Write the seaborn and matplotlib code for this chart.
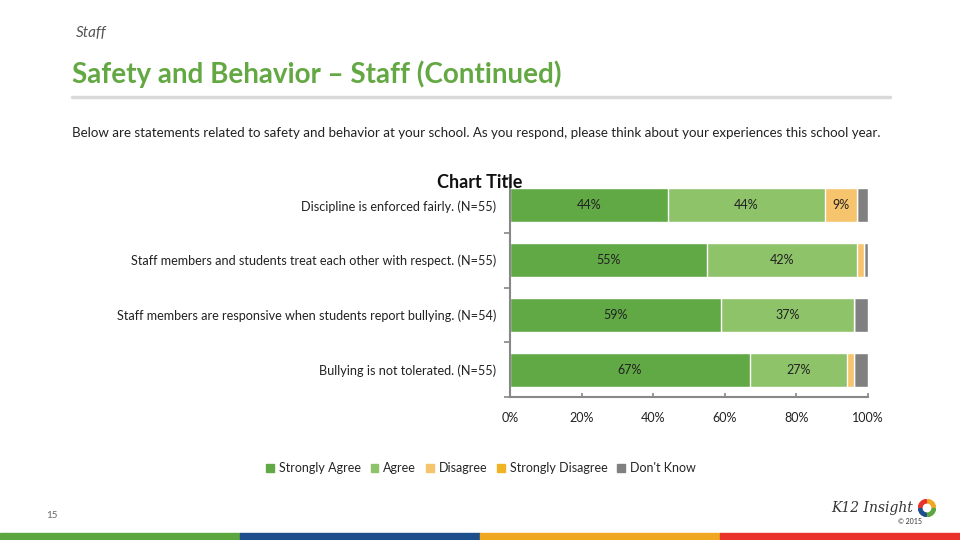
import matplotlib
matplotlib.use("Agg")
import matplotlib.pyplot as plt
import seaborn as sns
import pandas as pd
import numpy as np
from matplotlib.patches import Rectangle, Wedge

sns.set_theme(style="white")
plt.rcParams['font.family'] = ['Lato', 'DejaVu Sans']

statements = [
    "Discipline is enforced fairly. (N=55)",
    "Staff members and students treat each other with respect. (N=55)",
    "Staff members are responsive when students report bullying. (N=54)",
    "Bullying is not tolerated. (N=55)",
]
levels = ["Strongly Agree", "Agree", "Disagree", "Strongly Disagree", "Don't Know"]
strongly_agree = [44, 55, 59, 67]
agree = [44, 42, 37, 27]
disagree = [9, 2, 0, 2]
strongly_disagree = [0, 0, 0, 0]
dont_know = [3, 1, 4, 4]
colors = ["#61A945", "#8EC36A", "#F6C46C", "#F0B323", "#808080"]
xticks = [0, 20, 40, 60, 80, 100]
xticklabels = ["0%", "20%", "40%", "60%", "80%", "100%"]

series = [strongly_agree, agree, disagree, strongly_disagree, dont_know]
df = pd.DataFrame({"Statement": statements})
for lv, s in zip(levels, series):
    df[lv] = s
cum = df[levels].cumsum(axis=1)

fig = plt.figure(figsize=(9.6, 5.4), dpi=100)
ax = fig.add_axes([510/960, 143/540, 358/960, 219/540])

for i in range(len(levels) - 1, -1, -1):
    d = pd.DataFrame({"Statement": statements, "val": cum[levels[i]].values})
    sns.barplot(data=d, x="val", y="Statement", orient="h", color=colors[i],
                width=0.62, edgecolor="white", linewidth=1, ax=ax, saturation=1)

for r in range(len(statements)):
    for i, lv in enumerate(levels):
        v = df[lv].iloc[r]
        if v >= 5:
            ax.text(cum[lv].iloc[r] - v / 2, r, f"{v}%", ha="center", va="center",
                    fontsize=9, color="#222222")

ax.set_xlim(0, 100)
ax.set_ylim(3.5, -0.5)
ax.set_xticks(xticks)
ax.set_xticklabels(xticklabels, fontsize=9, color="#222222")
ax.set_xlabel("")
ax.set_ylabel("")
ax.tick_params(axis="y", which="major", left=False, length=0, labelsize=9.1, pad=10,
               labelcolor="#222222")
ax.set_yticks(np.arange(-0.5, 4.0, 1.0), minor=True)
ax.tick_params(axis="y", which="minor", left=True, length=4, color="#888888", width=1.2,
               direction="out")
ax.tick_params(axis="x", bottom=True, length=3, color="#888888", width=1.2, direction="in",
               pad=11)
for s in ["top", "right"]:
    ax.spines[s].set_visible(False)
for s in ["left", "bottom"]:
    ax.spines[s].set_color("#888888")
    ax.spines[s].set_linewidth(1.5)

fig.text(480/960, 1 - 183/540, "Chart Title", fontsize=13, fontweight="bold",
         ha="center", va="center", color="#111111", zorder=10)

handles = [Rectangle((0, 0), 1, 1, color=c) for c in colors]
fig.legend(handles, levels, loc="center", bbox_to_anchor=(481/960, 1 - 468/540), ncol=5,
           frameon=False, fontsize=9, handlelength=0.6, handleheight=0.6,
           handletextpad=0.4, columnspacing=0.8)

fig.text(76/960, 1 - 33/540, "Staff", fontsize=11, style="italic", color="#555555", va="center")
fig.text(72/960, 1 - 74/540, "Safety and Behavior \u2013 Staff (Continued)", fontsize=20,
         fontweight="bold", color="#64A844", va="center")
fig.add_artist(plt.Line2D([72/960, 890/960], [1 - 97/540, 1 - 97/540], color="#D9D9D9", lw=2.5))
fig.text(72/960, 1 - 133/540, "Below are statements related to safety and behavior at your school. As you respond, please think about your experiences this school year.",
         fontsize=9.6, color="#222222", va="center")
fig.text(52/960, 1 - 515/540, "15", fontsize=7, color="#666666", ha="center", va="center")

bar_colors = ["#5BA63F", "#1F4E8C", "#F0A823", "#E8322A"]
for k, c in enumerate(bar_colors):
    fig.add_artist(Rectangle((k * 0.25, 0), 0.25, 7/540, color=c, transform=fig.transFigure))

fig.text(913/960, 1 - 508/540, "K12 Insight", fontsize=10, family="DejaVu Serif",
         style="italic", color="#333333", ha="right", va="center")
fig.text(910/960, 1 - 522/540, "\u00a9 2015", fontsize=5, color="#333333", ha="center", va="center")
lax = fig.add_axes([918/960, 1 - 517/540, 18/960, 18/540])
lax.set_aspect("equal")
for k, c in enumerate(["#F0A823", "#E8322A", "#1F4E8C", "#5BA63F"]):
    lax.add_patch(Wedge((0, 0), 1, 90 * k + 5, 90 * k + 85, width=0.4, color=c))
lax.set_xlim(-1.05, 1.05)
lax.set_ylim(-1.05, 1.05)
lax.axis("off")

fig.savefig("out.png", dpi=100)
